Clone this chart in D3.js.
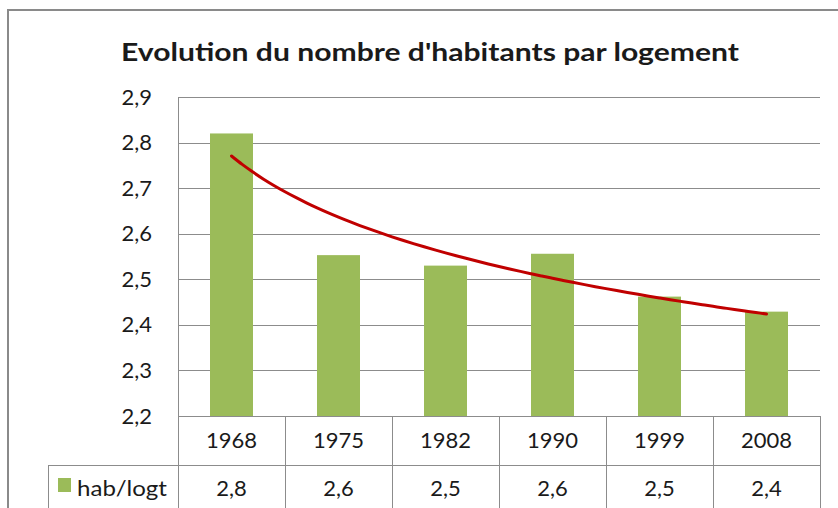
<!DOCTYPE html>
<html><head><meta charset="utf-8">
<script src="https://cdn.jsdelivr.net/npm/d3@7/dist/d3.min.js"></script>
<style>
html,body{margin:0;padding:0;background:#fff;}
svg{display:block;}
text{font-family:Lato,"Open Sans",sans-serif;fill:#1a1a1a;}
</style></head>
<body>
<svg id="c" width="838" height="508"></svg>
<script>
const title = "Evolution du nombre d'habitants par logement";
const categories = ["1968","1975","1982","1990","1999","2008"];
const values = [2.82, 2.553, 2.53, 2.556, 2.462, 2.429];
const tableLabels = ["2,8","2,6","2,5","2,6","2,5","2,4"];
const seriesName = "hab/logt";
const yTicks = [2.2,2.3,2.4,2.5,2.6,2.7,2.8,2.9];

const svg = d3.select("#c");
const L = 178, R = 820, T = 97, B = 416, rowB = 465, legL = 48;
const gridColor = "#8c8c8c";

// outer border
svg.append("path").attr("d","M8,508 V10 H838").attr("fill","none")
  .attr("stroke","#8a8a8a").attr("stroke-width",2);

svg.append("text").attr("x",430).attr("y",61).attr("text-anchor","middle")
  .attr("textLength",618).attr("lengthAdjust","spacingAndGlyphs")
  .style("font-size","25px").style("font-weight","bold").text(title);

const x = d3.scaleBand().domain(categories).range([L,R]).paddingInner(0).paddingOuter(0);
const y = d3.scaleLinear().domain([2.2,2.9]).range([B,T]);

// gridlines
svg.append("g").selectAll("line").data(yTicks).join("line")
  .attr("x1",L).attr("x2",R).attr("y1",d=>Math.round(y(d))+0.5).attr("y2",d=>Math.round(y(d))+0.5)
  .attr("stroke",gridColor).attr("stroke-width",1);

// y axis labels
const fmt = d => d.toFixed(1).replace(".",",");
const yAxis = d3.axisLeft(y).tickValues(yTicks).tickFormat(fmt).tickSize(0).tickPadding(26);
const ya = svg.append("g").attr("transform",`translate(${L},0)`).call(yAxis);
ya.select(".domain").remove();
ya.selectAll("text").style("font-size","22px").style("font-family","Lato,'Open Sans',sans-serif").attr("fill","#1a1a1a");

// bars
const bw = 43;
svg.append("g").selectAll("rect").data(values).join("rect")
  .attr("x",(d,i)=>x(categories[i])+x.bandwidth()/2-bw/2)
  .attr("width",bw)
  .attr("y",d=>y(d)).attr("height",d=>B-y(d))
  .attr("fill","#9bbb59");

// logarithmic trendline (least squares on ln(index))
const lx = values.map((d,i)=>Math.log(i+1));
const mx = d3.mean(lx), my = d3.mean(values);
const b = d3.sum(lx.map((v,i)=>(v-mx)*(values[i]-my))) / d3.sum(lx.map(v=>(v-mx)*(v-mx)));
const a = my - b*mx;
const steps = d3.range(0,51).map(k=>1 + 5*k/50);
const xi = d3.scaleLinear().domain([1,6]).range([x(categories[0])+x.bandwidth()/2, x(categories[5])+x.bandwidth()/2]);
svg.append("path").datum(steps)
  .attr("d",d3.line().x(t=>xi(t)).y(t=>y(a+b*Math.log(t))).curve(d3.curveCatmullRom))
  .attr("fill","none").attr("stroke","#c00000").attr("stroke-width",3).attr("stroke-linecap","round");

// table lines
const g = svg.append("g").attr("stroke",gridColor).attr("stroke-width",1).attr("fill","none");
g.append("line").attr("x1",L).attr("x2",R).attr("y1",B+0.5).attr("y2",B+0.5);
g.append("line").attr("x1",legL).attr("x2",R).attr("y1",rowB+0.5).attr("y2",rowB+0.5);
g.append("line").attr("x1",L+0.5).attr("x2",L+0.5).attr("y1",T).attr("y2",508);
g.append("line").attr("x1",legL+0.5).attr("x2",legL+0.5).attr("y1",rowB).attr("y2",508);
const bounds = categories.map(c=>x(c)+x.bandwidth());
g.selectAll("line.v").data(bounds).join("line").attr("class","v")
  .attr("x1",d=>Math.round(d)+0.5).attr("x2",d=>Math.round(d)+0.5).attr("y1",B).attr("y2",508);

// category row
svg.append("g").selectAll("text").data(categories).join("text")
  .attr("x",d=>x(d)+x.bandwidth()/2).attr("y",448).attr("text-anchor","middle")
  .style("font-size","22px").text(d=>d);
// values row
svg.append("g").selectAll("text").data(tableLabels).join("text")
  .attr("x",(d,i)=>x(categories[i])+x.bandwidth()/2).attr("y",496).attr("text-anchor","middle")
  .style("font-size","22px").text(d=>d);
// legend key
svg.append("rect").attr("x",58).attr("y",478).attr("width",13).attr("height",14).attr("fill","#9bbb59");
svg.append("text").attr("x",77).attr("y",496).attr("textLength",90).attr("lengthAdjust","spacingAndGlyphs")
  .style("font-size","22px").text(seriesName);
</script>
</body></html>
